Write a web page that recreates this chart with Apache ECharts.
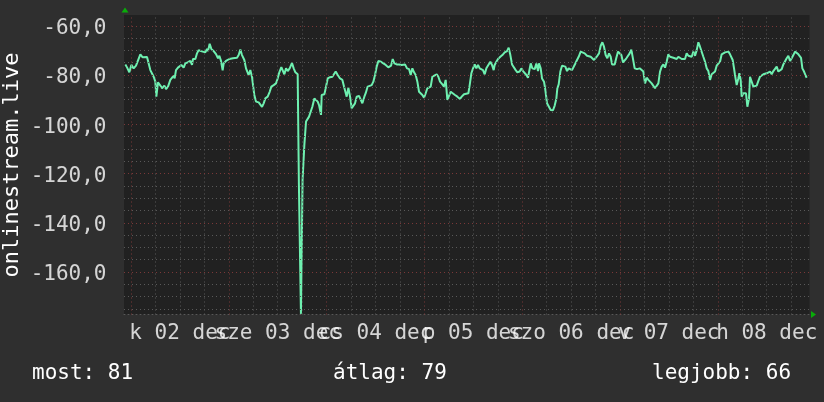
<!DOCTYPE html>
<html>
<head>
<meta charset="utf-8">
<script src="https://cdn.jsdelivr.net/npm/echarts@6/dist/echarts.min.js"></script>
<style>
html,body{margin:0;padding:0;background:#2f2f2f;}
#c{width:824px;height:402px;}
</style>
</head>
<body>
<div id="c"></div>
<script>
// time in hours since 2 Dec 00:00
const HOURS = [-1.39,-0.98,-0.41,0.08,0.65,1.23,1.72,2.29,2.86,3.35,3.93,4.33,4.74,5.15,5.56,5.97,6.22,6.62,7.20,7.61,8.18,8.59,9.08,9.65,10.06,10.47,10.71,11.04,11.53,11.86,12.35,12.92,13.33,13.90,14.56,14.97,15.21,15.79,16.20,16.60,17.18,17.67,18.24,18.65,18.89,19.30,19.71,20.29,20.86,21.35,21.68,22.08,22.49,22.74,23.31,23.80,24.13,24.62,25.03,25.44,26.01,26.42,26.83,27.24,27.81,28.22,28.63,28.87,29.28,29.69,29.94,30.26,30.67,31.33,31.74,32.15,32.56,32.96,33.54,34.03,34.44,35.01,35.58,35.99,36.40,36.89,37.30,37.63,38.04,38.45,38.94,39.51,39.92,40.33,40.58,40.90,41.20,41.70,42.10,42.54,42.95,43.36,43.69,44.18,44.50,44.99,45.32,45.81,46.14,46.63,46.79,47.45,47.78,48.27,48.84,49.41,49.90,50.23,50.72,51.29,51.87,52.27,52.68,52.93,53.34,53.75,54.16,54.57,54.97,55.38,55.96,56.36,56.77,57.26,57.59,58.08,58.41,59.06,59.47,59.88,60.29,60.70,61.35,61.93,62.50,63.15,63.81,64.22,64.63,65.20,65.77,66.43,67.24,67.73,68.23,68.63,69.04,69.45,69.86,70.27,70.68,71.09,71.50,71.91,72.32,72.72,73.13,73.54,73.95,74.36,75.02,75.42,75.83,76.41,76.81,77.22,77.63,78.04,78.45,78.86,79.51,80.09,80.74,81.15,81.72,82.21,82.79,83.11,83.52,83.93,84.34,84.75,85.15,85.56,85.97,86.38,86.79,87.20,87.61,88.18,88.59,89.00,89.24,89.65,90.06,90.63,91.13,91.70,92.27,92.68,93.09,93.50,93.91,94.40,94.81,95.38,95.79,96.20,96.61,97.02,97.42,97.83,98.08,98.49,99.06,99.47,99.88,100.12,100.53,100.86,101.35,101.68,102.09,102.58,102.99,103.56,103.97,104.38,104.62,104.95,105.36,105.77,106.18,106.59,107.00,107.40,107.81,108.22,108.63,109.04,109.45,109.86,110.35,110.76,111.33,111.90,112.31,112.80,113.21,113.62,114.03,114.44,114.85,115.26,115.67,116.07,116.48,116.89,117.30,117.71,118.04,118.69,119.10,119.51,119.92,120.33,120.74,121.15,121.56,121.96,122.37,122.78,123.19,123.60,124.17,124.83,125.32,125.73,126.14,126.55,126.96,127.36,127.77,128.18,128.59,129.00,129.41,129.82,130.23,130.64,131.05,131.45,131.86,132.27,132.68,133.09,133.50,133.91,134.32,134.73,135.14,135.54,135.95,136.36,136.77,137.18,137.59,138.00,138.41,138.82,139.23,139.63,140.04,140.45,140.86,141.27,141.68,142.09,142.50,142.91,143.32,143.72,144.13,144.54,144.95,145.36,145.77,146.18,146.59,147.00,147.41,147.65,147.98,148.22,148.63,149.04,149.29,149.61,149.86,150.27,150.68,150.92,151.25,151.66,151.90,152.31,152.72,153.13,153.54,153.95,154.36,154.77,155.18,155.59,155.99,156.40,156.81,157.22,157.63,158.04,158.45,158.86,159.27,159.68,160.08,160.49,160.90,161.31,161.72,162.13,162.54,162.95,163.36,163.77,164.18,164.42,164.75,165.16,165.57,165.81];
const VALUES = [-75.7,-76.9,-78.9,-75.9,-77.3,-76.2,-75.7,-71.6,-72.8,-72.6,-72.7,-73.0,-78.0,-77.7,-80.7,-82.7,-88.8,-83.0,-84.3,-85.4,-84.3,-85.7,-84.7,-82.0,-81.4,-80.3,-81.4,-78.0,-77.0,-76.2,-75.9,-77.0,-75.3,-74.9,-74.3,-75.9,-73.5,-73.5,-71.2,-69.9,-70.3,-70.0,-70.8,-69.4,-70.3,-67.3,-69.4,-70.3,-71.5,-73.2,-72.2,-74.2,-78.1,-75.3,-74.3,-75.0,-73.5,-74.3,-73.2,-73.9,-73.0,-71.9,-69.7,-71.9,-73.9,-77.3,-78.1,-80.0,-78.0,-80.8,-84.1,-88.1,-90.8,-91.1,-91.5,-92.9,-91.5,-89.5,-88.8,-86.8,-84.7,-84.1,-83.4,-81.4,-78.9,-76.8,-76.2,-79.7,-77.3,-78.4,-77.3,-75.1,-77.3,-78.9,-78.9,-79.7,-124.5,-177.0,-122.6,-108.4,-98.9,-99.2,-96.9,-96.2,-92.9,-89.5,-88.8,-90.8,-92.2,-96.2,-88.1,-87.8,-85.4,-81.4,-80.9,-80.7,-80.0,-78.6,-80.0,-81.4,-82.0,-84.7,-85.4,-88.8,-85.1,-88.8,-93.5,-93.3,-91.5,-88.8,-88.5,-88.8,-91.5,-88.8,-87.4,-84.7,-84.1,-84.1,-82.7,-80.0,-76.6,-74.3,-74.6,-75.3,-75.9,-76.9,-76.2,-73.5,-75.3,-75.7,-75.7,-75.9,-75.7,-77.3,-77.6,-80.0,-77.3,-78.9,-80.0,-82.7,-86.8,-87.0,-88.1,-89.2,-87.4,-85.4,-86.1,-84.7,-80.7,-80.0,-79.7,-80.7,-82.7,-83.8,-84.7,-82.0,-90.1,-90.6,-86.8,-87.4,-88.1,-88.8,-89.7,-88.8,-87.8,-87.4,-87.4,-84.1,-79.3,-77.3,-75.7,-77.3,-75.9,-77.3,-76.6,-78.0,-79.7,-77.3,-76.6,-74.6,-75.9,-78.0,-75.9,-74.6,-73.5,-72.6,-71.9,-70.8,-70.3,-68.9,-71.9,-75.7,-76.2,-78.0,-78.9,-78.6,-77.3,-78.4,-77.6,-80.0,-81.1,-80.7,-75.3,-77.3,-77.6,-75.3,-78.4,-75.3,-77.3,-81.4,-82.7,-86.1,-91.5,-92.2,-94.2,-94.3,-92.4,-89.5,-85.4,-83.8,-78.6,-76.2,-75.7,-76.6,-78.4,-77.3,-76.6,-78.0,-77.3,-75.3,-73.9,-72.6,-70.5,-69.9,-71.2,-72.2,-71.9,-72.6,-72.2,-73.9,-73.5,-72.2,-71.2,-68.1,-66.7,-68.5,-71.9,-73.2,-71.2,-72.6,-75.7,-75.7,-73.0,-70.5,-69.9,-71.9,-74.9,-75.3,-73.2,-73.0,-71.2,-69.7,-70.3,-77.3,-77.6,-77.3,-77.6,-78.6,-83.4,-81.1,-82.0,-82.7,-83.4,-84.1,-85.4,-85.1,-83.4,-78.6,-76.6,-75.7,-77.0,-74.6,-71.6,-72.6,-73.2,-73.0,-73.0,-73.5,-72.6,-72.2,-73.5,-73.0,-73.5,-71.2,-72.2,-73.0,-72.6,-70.5,-72.2,-69.9,-66.7,-68.5,-69.2,-72.6,-74.6,-77.3,-78.4,-82.0,-79.7,-80.0,-78.6,-76.2,-76.6,-74.6,-71.6,-71.2,-70.8,-71.2,-70.5,-71.6,-71.6,-73.9,-77.3,-80.0,-84.1,-81.4,-79.3,-82.0,-88.8,-87.4,-87.8,-87.4,-92.9,-89.5,-80.7,-81.4,-84.7,-84.1,-84.3,-82.4,-80.7,-80.3,-79.7,-80.0,-79.3,-78.9,-78.6,-79.7,-78.4,-78.0,-76.6,-78.6,-78.0,-77.6,-75.7,-75.3,-73.2,-72.2,-74.3,-73.2,-71.9,-70.5,-71.2,-71.6,-71.6,-73.0,-77.3,-78.6,-80.3,-81.1];

const X_MIN = -1.72, X_MAX = 166.5;
const Y_MIN = -177.26, Y_MAX = -55.63;
const DAY_TICKS = [12, 36, 60, 84, 108, 132, 156];
const DAY_LABELS = ['k 02 dec', 'sze 03 dec', 'cs 04 dec', 'p 05 dec', 'szo 06 dec', 'v 07 dec', 'h 08 dec'];
const Y_LABEL_TICKS = [-60, -80, -100, -120, -140, -160];
const Y_MINOR = [-65,-70,-75,-85,-90,-95,-105,-110,-115,-125,-130,-135,-145,-150,-155,-165,-170,-175];
const Y_MAJOR = [-60,-80,-100,-120,-140,-160];
const X_MINOR = [6,12,18,30,36,42,54,60,66,78,84,90,102,108,114,126,132,138,150,156,162];
const X_MAJOR = [0,24,48,72,96,120,144];
const TITLE = 'onlinestream.live';
const LEGEND = ['most: 81', 'átlag: 79', 'legjobb: 66'];

const FONT = 'DejaVu Sans Mono';
const minorStyle = {color: '#595959', width: 1, type: [1, 3]};
const majorStyle = {color: '#7a3838', width: 1, type: [1, 3]};

const gridLines = [];
Y_MINOR.forEach(v => gridLines.push({yAxis: v, lineStyle: minorStyle}));
X_MINOR.forEach(v => gridLines.push({xAxis: v, lineStyle: minorStyle}));
Y_MAJOR.forEach(v => gridLines.push({yAxis: v, lineStyle: majorStyle}));
X_MAJOR.forEach(v => gridLines.push({xAxis: v, lineStyle: majorStyle}));

const labelBase = {show: true, color: '#ffffff', fontFamily: FONT, fontSize: 21};

const chart = echarts.init(document.getElementById('c'), null, {renderer: 'canvas'});
chart.setOption({
  backgroundColor: '#2f2f2f',
  animation: false,
  grid: {left: 124, right: 14.5, top: 15, bottom: 87.5, show: true, backgroundColor: '#212121', borderWidth: 0},
  xAxis: {
    type: 'value', min: X_MIN, max: X_MAX,
    splitLine: {show: false}, axisTick: {show: false}, axisLabel: {show: false},
    axisLine: {show: true, lineStyle: {color: '#595959', width: 1, type: [1, 3]}}
  },
  yAxis: {
    type: 'value', min: Y_MIN, max: Y_MAX,
    splitLine: {show: false}, axisTick: {show: false}, axisLine: {show: false}, axisLabel: {show: false}
  },
  graphic: [
    {type: 'text', x: 12, y: 165, rotation: Math.PI / 2,
     style: {text: TITLE, fill: '#ffffff', font: '22px "DejaVu Sans Mono"', align: 'center', verticalAlign: 'middle'}},
    {type: 'text', x: 32, y: 374, style: {text: LEGEND[0], fill: '#ffffff', font: '21px "DejaVu Sans Mono"', align: 'left', verticalAlign: 'middle'}},
    {type: 'text', x: 333, y: 374, style: {text: LEGEND[1], fill: '#ffffff', font: '21px "DejaVu Sans Mono"', align: 'left', verticalAlign: 'middle'}},
    {type: 'text', x: 652, y: 374, style: {text: LEGEND[2], fill: '#ffffff', font: '21px "DejaVu Sans Mono"', align: 'left', verticalAlign: 'middle'}}
  ],
  series: [
    {
      type: 'line', data: [], silent: true, z: 1,
      markLine: {silent: true, symbol: ['none', 'none'], label: {show: false}, animation: false, data: gridLines}
    },
    {
      type: 'line', z: 3,
      data: HOURS.map((h, i) => [h, VALUES[i]]),
      showSymbol: false, clip: true,
      lineStyle: {color: '#6ef0b0', width: 2},
      itemStyle: {color: '#6ef0b0'}
    },
    {
      type: 'scatter', z: 4, clip: false, silent: true,
      data: [
        {value: [X_MIN, Y_MAX], symbolRotate: 0, symbolOffset: [1, -5]},
        {value: [X_MAX, Y_MIN], symbolRotate: -90, symbolOffset: [4, 0]}
      ],
      symbol: 'triangle', symbolSize: [7, 5],
      itemStyle: {color: '#00cc00'}
    },
    {
      // x axis day labels
      type: 'scatter', z: 5, clip: false, silent: true,
      symbolSize: 1, itemStyle: {color: 'rgba(0,0,0,0)'},
      labelLayout: {hideOverlap: false},
      label: Object.assign({}, labelBase, {position: 'bottom', distance: 8,
        formatter: p => DAY_LABELS[p.dataIndex]}),
      data: DAY_TICKS.map(t => [t, Y_MIN])
    },
    {
      // y axis value labels
      type: 'scatter', z: 5, clip: false, silent: true,
      symbolSize: 1, itemStyle: {color: 'rgba(0,0,0,0)'},
      label: Object.assign({}, labelBase, {position: 'left', distance: 17, offset: [0, 3],
        formatter: p => p.value[1].toFixed(1).replace('.', ',')}),
      data: Y_LABEL_TICKS.map(v => [X_MIN, v])
    }
  ]
});
</script>
</body>
</html>
